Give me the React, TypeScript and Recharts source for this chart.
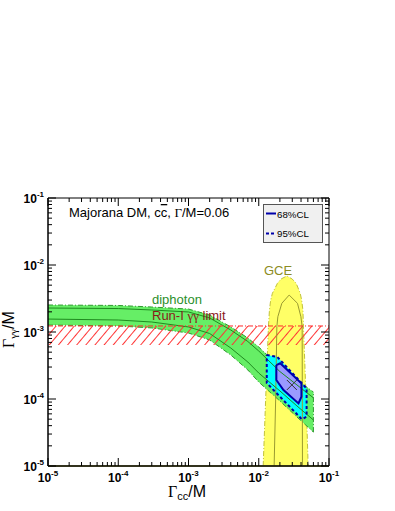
import React from "react";
import { ComposedChart, XAxis, YAxis, Area, Line, Scatter, ReferenceLine } from "recharts";

// diphoton band (Gamma_cc/M -> Gamma_gg/M), outer edges and inner lines
const bandX = [1e-5, 1e-4, 3e-4, 1e-3, 2e-3, 4e-3, 7e-3, 1e-2, 2e-2, 3.5e-2, 6e-2];
const bandHi = [2.53e-3, 2.49e-3, 2.36e-3, 2.2e-3, 1.79e-3, 1.19e-3, 8.13e-4, 5.97e-4, 3.0e-4, 1.92e-4, 1.27e-4];
const bandLo = [1.27e-3, 1.23e-3, 1.15e-3, 9.66e-4, 7.6e-4, 4.54e-4, 2.71e-4, 1.79e-4, 9.33e-5, 5.38e-5, 3.21e-5];
const bandInHi = [2.28e-3, 2.24e-3, 2.13e-3, 1.99e-3, 1.62e-3, 1.07e-3, 7.21e-4, 5.2e-4, 2.57e-4, 1.62e-4, 1.04e-4];
const bandInLo = [1.56e-3, 1.51e-3, 1.41e-3, 1.19e-3, 9.5e-4, 5.77e-4, 3.56e-4, 2.44e-4, 1.32e-4, 7.87e-5, 4.86e-5];

// Run-I gamma gamma limit (hatched)
const runILo = 6.4e-4;
const runIHi = 1.23e-3;

// GCE region
const gceX = [0.01156, 0.01253, 0.01374, 0.0142, 0.01479, 0.01566, 0.01846, 0.0208, 0.0251, 0.0299, 0.0341, 0.0389, 0.0408, 0.0425, 0.0433, 0.0473, 0.0505];
const gceY = [1e-5, 9.7e-5, 1.2e-3, 2.13e-3, 3.0e-3, 3.79e-3, 5.33e-3, 6.18e-3, 6.86e-3, 6.18e-3, 5.33e-3, 3.79e-3, 3.0e-3, 2.13e-3, 1.2e-3, 9.7e-5, 1e-5];
const gceInX = [0.01656, 0.0174, 0.0181, 0.0187, 0.0213, 0.0271, 0.0356, 0.0398, 0.0415, 0.0419];
const gceInY = [1e-5, 9.7e-5, 1.2e-3, 1.69e-3, 2.68e-3, 3.56e-3, 2.68e-3, 1.69e-3, 1.2e-3, 1e-5];

// 95% CL contour
const cyanEdgeX = [0.013, 0.0183, 0.048, 0.048, 0.0411, 0.013, 0.013];
const cyanEdgeY = [4.54e-4, 4.27e-4, 1.44e-4, 5.45e-5, 4.98e-5, 1.73e-4, 4.54e-4];
const cyanFillX = [0.013, 0.0183, 0.0411, 0.048];
const cyanFillLo = [1.73e-4, 1.2e-4, 4.98e-5, 5.45e-5];
const cyanFillHi = [4.54e-4, 4.27e-4, 1.73e-4, 1.44e-4];

// 68% CL contour
const purpleEdgeX = [0.0178, 0.0202, 0.0405, 0.0405, 0.0368, 0.0225, 0.0178, 0.0178];
const purpleEdgeY = [3.21e-4, 3.41e-4, 1.71e-4, 1.08e-4, 8.6e-5, 1.36e-4, 1.92e-4, 3.21e-4];
const purpleFillX = [0.0178, 0.0202, 0.0225, 0.0368, 0.0405];
const purpleFillLo = [1.92e-4, 1.62e-4, 1.36e-4, 8.6e-5, 1.08e-4];
const purpleFillHi = [3.21e-4, 3.41e-4, 3.08e-4, 1.91e-4, 1.71e-4];

const bestX = [0.0296];
const bestY = [1.62e-4];

const decades = [1e-5, 1e-4, 1e-3, 1e-2, 1e-1];
const decadeLabels = ["-5", "-4", "-3", "-2", "-1"];
const minorSteps = [2, 3, 4, 5, 6, 7, 8, 9];
const logTicks = [...decades, ...decades.slice(0, 4).flatMap((d) => minorSteps.map((m) => m * d))].sort((a, b) => a - b);

const sans = "'Liberation Sans', Arial, Helvetica, sans-serif";
const serif = "'Liberation Serif', 'Times New Roman', serif";

const bandData = bandX.map((x, i) => ({ x, r: [bandLo[i], bandHi[i]], inHi: bandInHi[i], inLo: bandInLo[i] }));
const bandEnd = [
  { x: bandX[bandX.length - 1], y: bandLo[bandLo.length - 1] },
  { x: bandX[bandX.length - 1], y: bandHi[bandHi.length - 1] },
];
const runIData = [{ x: 1e-5, r: [runILo, runIHi] }, { x: 1e-1, r: [runILo, runIHi] }];
const gceData = gceX.map((x, i) => ({ x, y: gceY[i] }));
const gceInData = gceInX.map((x, i) => ({ x, y: gceInY[i] }));
const cyanFill = cyanFillX.map((x, i) => ({ x, r: [cyanFillLo[i], cyanFillHi[i]] }));
const cyanEdge = cyanEdgeX.map((x, i) => ({ x, y: cyanEdgeY[i] }));
const purpleFill = purpleFillX.map((x, i) => ({ x, r: [purpleFillLo[i], purpleFillHi[i]] }));
const purpleEdge = purpleEdgeX.map((x, i) => ({ x, y: purpleEdgeY[i] }));
const bestData = bestX.map((x, i) => ({ x, y: bestY[i] }));

function Power({ x, y, exp, anchor }: { x: number; y: number; exp: string; anchor: string }) {
  return (
    <text x={x} y={y} textAnchor={anchor} fontFamily={sans} fontWeight="bold" fontSize={12} fill="#000">
      10<tspan dy={-6} fontSize={8}>{exp}</tspan>
    </text>
  );
}

function BottomTick(p: any) {
  const i = decades.indexOf(p.payload.value);
  const len = i >= 0 ? 8 : 4;
  return (
    <g>
      <line x1={p.x} x2={p.x} y1={p.y} y2={p.y - len} stroke="#000" />
      {i >= 0 && <Power x={p.x} y={p.y + 16} exp={decadeLabels[i]} anchor="middle" />}
    </g>
  );
}

function TopTick(p: any) {
  const len = decades.indexOf(p.payload.value) >= 0 ? 8 : 4;
  return <line x1={p.x} x2={p.x} y1={p.y} y2={p.y + len} stroke="#000" />;
}

function LeftTick(p: any) {
  const i = decades.indexOf(p.payload.value);
  const len = i >= 0 ? 8 : 4;
  return (
    <g>
      <line x1={p.x} x2={p.x + len} y1={p.y} y2={p.y} stroke="#000" />
      {i >= 0 && <Power x={p.x - 4} y={p.y + 5} exp={decadeLabels[i]} anchor="end" />}
    </g>
  );
}

function RightTick(p: any) {
  const len = decades.indexOf(p.payload.value) >= 0 ? 8 : 4;
  return <line x1={p.x} x2={p.x - len} y1={p.y} y2={p.y} stroke="#000" />;
}

function Cross(p: any) {
  return (
    <g stroke="#333" strokeWidth={1}>
      <line x1={p.cx - 5} y1={p.cy - 5} x2={p.cx + 5} y2={p.cy + 5} />
      <line x1={p.cx - 5} y1={p.cy + 5} x2={p.cx + 5} y2={p.cy - 5} />
    </g>
  );
}

const dashDot = "5 2 1 2";

export default function App() {
  const axisCommon = {
    type: "number" as const,
    scale: "log" as const,
    allowDataOverflow: true,
    ticks: logTicks,
    interval: 0,
    tickSize: 0,
    tickMargin: 0,
    tickLine: false,
  };
  return (
    <div style={{ position: "absolute", left: 0, top: 0, width: 395, height: 511, background: "#fff" }}>
      <svg width={0} height={0} style={{ position: "absolute" }}>
        <defs>
          <pattern id="runIHatch" width={7} height={7} patternUnits="userSpaceOnUse" patternTransform="rotate(40)">
            <line x1={0.5} y1={0} x2={0.5} y2={7} stroke="#ff3535" strokeWidth={1} />
          </pattern>
        </defs>
      </svg>
      <ComposedChart width={395} height={511} margin={{ top: 188, right: 56, bottom: 15, left: 8 }}>
        <XAxis {...axisCommon} dataKey="x" domain={[1e-5, 0.1]} height={30} axisLine={{ stroke: "#000", strokeWidth: 1.5 }} tick={(p: any) => <BottomTick {...p} />} />
        <XAxis {...axisCommon} dataKey="x" xAxisId="top" orientation="top" domain={[1e-5, 0.1]} height={10} axisLine={{ stroke: "#000" }} tick={(p: any) => <TopTick {...p} />} />
        <YAxis {...axisCommon} domain={[1e-5, 0.1]} width={40} axisLine={{ stroke: "#000", strokeWidth: 1.5 }} tick={(p: any) => <LeftTick {...p} />} />
        <YAxis {...axisCommon} yAxisId="right" orientation="right" domain={[1e-5, 0.1]} width={10} axisLine={{ stroke: "#000" }} tick={(p: any) => <RightTick {...p} />} />

        <Area data={gceData} dataKey="y" baseValue={1e-5} type="linear" fill="#ffff66" fillOpacity={1} stroke="#c2c23a" strokeDasharray={dashDot} isAnimationActive={false} />
        <Area data={bandData} dataKey="r" type="linear" fill="#66ee66" fillOpacity={1} stroke="#2f9a2f" strokeDasharray={dashDot} isAnimationActive={false} />
        <Area data={runIData} dataKey="r" type="linear" fill="url(#runIHatch)" fillOpacity={1} stroke="none" isAnimationActive={false} />
        <Area data={cyanFill} dataKey="r" type="linear" fill="#00ffff" fillOpacity={1} stroke="none" isAnimationActive={false} />
        <Area data={purpleFill} dataKey="r" type="linear" fill="#9a9aff" fillOpacity={1} stroke="none" isAnimationActive={false} />

        <Line data={gceInData} dataKey="y" type="linear" stroke="#9a9a30" strokeWidth={1} dot={false} activeDot={false} isAnimationActive={false} />
        <Line data={bandData} dataKey="inHi" type="linear" stroke="#1f8a1f" strokeWidth={1} dot={false} activeDot={false} isAnimationActive={false} />
        <Line data={bandData} dataKey="inLo" type="linear" stroke="#1f8a1f" strokeWidth={1} dot={false} activeDot={false} isAnimationActive={false} />
        <Line data={bandEnd} dataKey="y" type="linear" stroke="#2f9a2f" strokeDasharray={dashDot} dot={false} activeDot={false} isAnimationActive={false} />
        <ReferenceLine y={runIHi} stroke="#ff2a2a" strokeDasharray={dashDot} />
        <ReferenceLine y={1e-5} stroke="#b8b84a" strokeWidth={1.5} />
        <Line data={cyanEdge} dataKey="y" type="linear" stroke="#0000aa" strokeWidth={2} strokeDasharray="3 2.5" dot={false} activeDot={false} isAnimationActive={false} />
        <Line data={purpleEdge} dataKey="y" type="linear" stroke="#0000aa" strokeWidth={2} dot={false} activeDot={false} isAnimationActive={false} />
        <Scatter data={bestData} dataKey="y" shape={(p: any) => <Cross {...p} />} isAnimationActive={false} />
      </ComposedChart>

      <svg width={395} height={511} style={{ position: "absolute", left: 0, top: 0, pointerEvents: "none" }} fontFamily={sans}>
        <text x={69} y={217} fontSize={13} fill="#000">
          Majorana DM, c<tspan style={{ textDecoration: "overline" }}>c</tspan>, <tspan fontFamily={serif}>Γ</tspan>/M=0.06
        </text>
        <rect x={263.5} y={204.5} width={59} height={38} fill="#f0f0f0" stroke="#555" />
        <line x1={266} x2={276} y1={213.5} y2={213.5} stroke="#0000aa" strokeWidth={2} />
        <text x={277} y={217.5} fontSize={9.7} fill="#000">68%CL</text>
        <line x1={266} x2={276} y1={233.5} y2={233.5} stroke="#0000aa" strokeWidth={2} strokeDasharray="3 2" />
        <text x={277} y={237} fontSize={9.7} fill="#000">95%CL</text>
        <text x={264} y={275} fontSize={13} fill="#8c8c23">GCE</text>
        <text x={152} y={304} fontSize={13} fill="#2b8f2b">diphoton</text>
        <text x={152} y={320} fontSize={13} fill="#8b1a1a">
          Run-I <tspan fontFamily={serif}>γγ</tspan> limit
        </text>
        <text x={168} y={497} fontSize={16} fill="#000">
          <tspan fontFamily={serif}>Γ</tspan>
          <tspan fontSize={11} dy={3}>cc</tspan>
          <tspan dy={-3}>/M</tspan>
        </text>
        <text x={14} y={348} fontSize={16} fill="#000" transform="rotate(-90 14 348)">
          <tspan fontFamily={serif}>Γ</tspan>
          <tspan fontSize={11} dy={3} fontFamily={serif}>γγ</tspan>
          <tspan dy={-3}>/M</tspan>
        </text>
      </svg>
    </div>
  );
}
